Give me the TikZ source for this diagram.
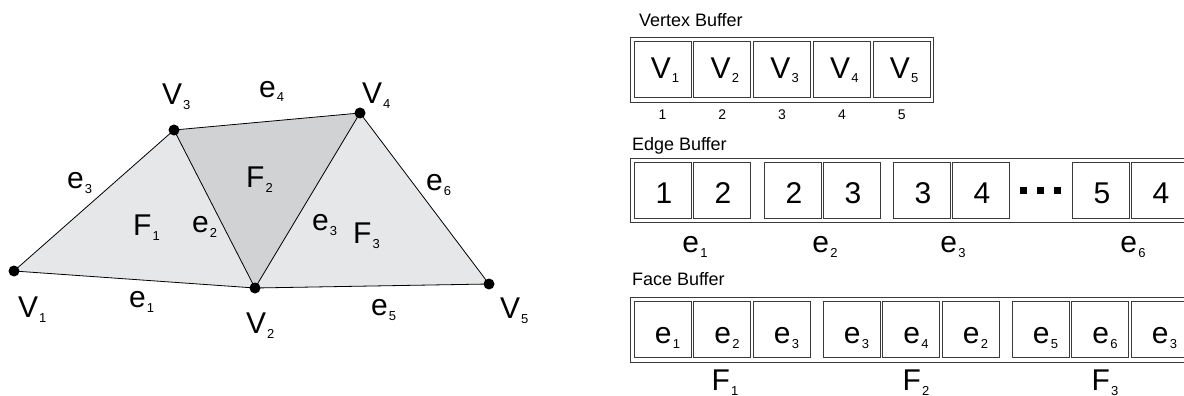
\documentclass[tikz,border=0pt]{standalone}
\usepackage{fontspec}
\setmainfont{Liberation Sans}
\definecolor{lightface}{HTML}{E6E7E8}
\definecolor{darkface}{HTML}{D1D2D4}
\definecolor{boxgray}{HTML}{3A3A3A}
\newcommand{\lsub}[2]{#1\kern1.2pt\raisebox{-5pt}{\fontsize{13}{13}\selectfont #2}}
\begin{document}
\begin{tikzpicture}[x=1pt,y=-1pt,
  lbl/.style={inner sep=0pt, outer sep=0pt, font=\fontsize{30}{30}\selectfont},
  numlbl/.style={inner sep=0pt, outer sep=0pt, anchor=base, font=\fontsize{14}{14}\selectfont},
  ttl/.style={inner sep=0pt, outer sep=0pt, anchor=base west, font=\fontsize{18}{18}\selectfont},
  bufcell/.style={draw=boxgray, line width=0.9pt, minimum width=57pt, minimum height=56pt, inner sep=0pt, outer sep=0pt, anchor=north west},
  bufframe/.style={draw=boxgray, line width=0.9pt},
  vdot/.style={circle, fill=black, inner sep=0pt, minimum size=11pt},
  sqdot/.style={rectangle, fill=black, inner sep=0pt, minimum size=7pt},
  tedge/.style={black, line width=0.8pt}]
\clip (0,0) rectangle (1184,396);
\fill[white] (0,0) rectangle (1184,396);

% ---------- mesh ----------
\coordinate (p1) at (14,271);
\coordinate (p2) at (255,288);
\coordinate (p3) at (174,130);
\coordinate (p4) at (360,113);
\coordinate (p5) at (489,284);
\fill[lightface] (p1) -- (p2) -- (p3) -- cycle;
\fill[darkface] (p3) -- (p2) -- (p4) -- cycle;
\fill[lightface] (p2) -- (p5) -- (p4) -- cycle;
\draw[tedge] (p1) -- (p2);
\draw[tedge] (p2) -- (p3);
\draw[tedge] (p3) -- (p1);
\draw[tedge] (p3) -- (p4);
\draw[tedge] (p4) -- (p2);
\draw[tedge] (p4) -- (p5);
\draw[tedge] (p5) -- (p2);
\node[vdot] (v1) at (p1) {};
\node[vdot] (v2) at (p2) {};
\node[vdot] (v3) at (p3) {};
\node[vdot] (v4) at (p4) {};
\node[vdot] (v5) at (p5) {};

\node[lbl, anchor=base west] (lv3) at (162,105) {\lsub{V}{3}};
\node[lbl, anchor=base west] (lv4) at (362,103) {\lsub{V}{4}};
\node[lbl, anchor=base west] (lv1) at (18,317) {\lsub{V}{1}};
\node[lbl, anchor=base west] (lv2) at (246,333) {\lsub{V}{2}};
\node[lbl, anchor=base west] (lv5) at (500,318) {\lsub{V}{5}};
\node[lbl, anchor=base west] (le4) at (259,97) {\lsub{e}{4}};
\node[lbl, anchor=base west] (le3a) at (67,188) {\lsub{e}{3}};
\node[lbl, anchor=base west] (lf1) at (133,235) {\lsub{F}{1}};
\node[lbl, anchor=base west] (le2) at (192,232) {\lsub{e}{2}};
\node[lbl, anchor=base west] (lf2) at (246,187) {\lsub{F}{2}};
\node[lbl, anchor=base west] (le3b) at (312,230) {\lsub{e}{3}};
\node[lbl, anchor=base west] (lf3) at (353,243) {\lsub{F}{3}};
\node[lbl, anchor=base west] (le6) at (426,190) {\lsub{e}{6}};
\node[lbl, anchor=base west] (le1) at (129,307) {\lsub{e}{1}};
\node[lbl, anchor=base west] (le5) at (371,315) {\lsub{e}{5}};

% ---------- vertex buffer ----------
\node[ttl] (tv) at (639,27) {Vertex Buffer};
\draw[bufframe] (630,37) rectangle (933,102);
\foreach \i/\x in {1/634,2/693.8,3/753.6,4/813.4,5/873.2} {
  \node[bufcell] (vb\i) at (\x,41.5) {};
  \node[lbl, anchor=base] (vbt\i) at (\x+31,78) {\lsub{V}{\i}};
  \node[numlbl] (vbn\i) at (\x+28.5,120) {\i};
}

% ---------- edge buffer ----------
\node[ttl] (te) at (632,150) {Edge Buffer};
\draw[bufframe] (630,158) rectangle (1200,222);
\foreach \i/\x/\d in {1/634/1,2/693/2,3/764/2,4/823/3,5/893/3,6/952/4,7/1072/5,8/1131/4} {
  \node[bufcell] (eb\i) at (\x,162) {};
  \node[lbl, anchor=base] (ebt\i) at (\x+30,203) {\d};
}
\node[sqdot] (dd1) at (1023.5,190.5) {};
\node[sqdot] (dd2) at (1040.5,190.5) {};
\node[sqdot] (dd3) at (1057.5,190.5) {};
\foreach \j/\x in {1/695,2/825,3/953,6/1133} {
  \node[lbl, anchor=base] (ebl\j) at (\x,252) {\lsub{e}{\j}};
}

% ---------- face buffer ----------
\node[ttl] (tf) at (632,285) {Face Buffer};
\draw[bufframe] (630,297) rectangle (1200,362);
\foreach \i/\x/\e in {1/634/1,2/693.5/2,3/753/3,4/823/3,5/882.5/4,6/942/2,7/1012/5,8/1071.5/6,9/1131/3} {
  \node[bufcell] (fb\i) at (\x,301) {};
  \node[lbl, anchor=base] (fbt\i) at (\x+33.5,343) {\lsub{e}{\e}};
}
\node[lbl, anchor=base] (fl1) at (725,390) {\lsub{F}{1}};
\node[lbl, anchor=base] (fl2) at (916,390) {\lsub{F}{2}};
\node[lbl, anchor=base] (fl3) at (1105,390) {\lsub{F}{3}};
\end{tikzpicture}
\end{document}
